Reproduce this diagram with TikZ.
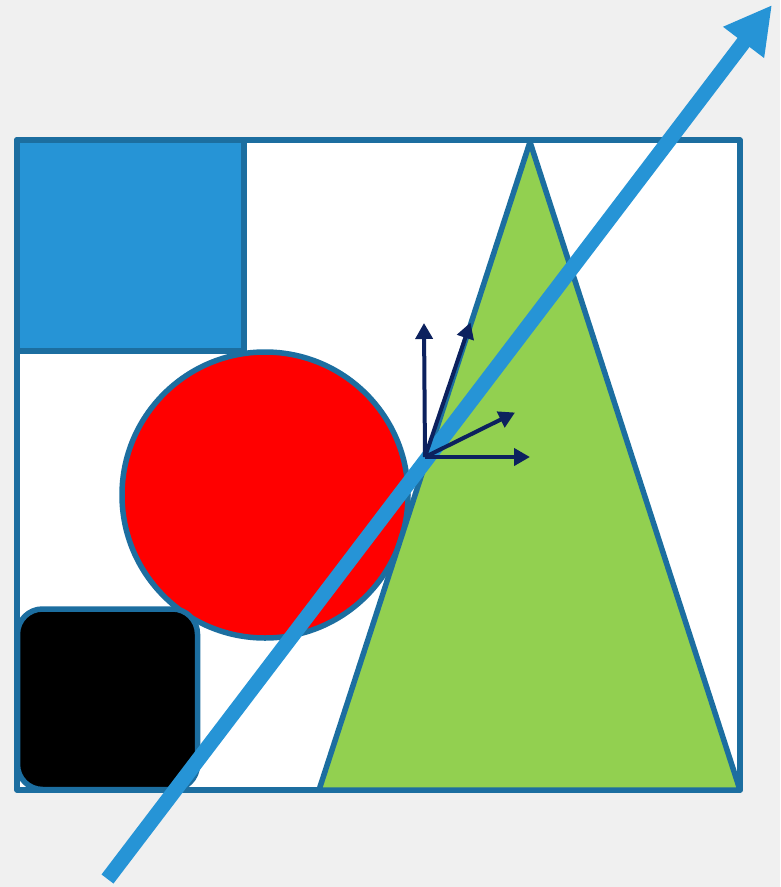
\documentclass[tikz,border=0pt]{standalone}
\usetikzlibrary{arrows.meta}
\definecolor{edge}{HTML}{1C6EA0}
\definecolor{skyb}{HTML}{2694D6}
\definecolor{leaf}{HTML}{92D050}
\definecolor{navy}{HTML}{0C215E}
\definecolor{bg}{HTML}{F0F0F0}
\tikzset{
  shp/.style={draw=edge,line width=5.5pt,line join=round},
  big/.style={-{Triangle[length=47pt,width=48pt]},line width=15pt,draw=skyb},
  vec/.style={-{Triangle[length=16pt,width=17pt]},line width=4pt,draw=navy},
}
\begin{document}
\begin{tikzpicture}[x=1pt,y=-1pt]
  \fill[bg] (0,0) rectangle (780,887);
  \useasboundingbox (0,0) rectangle (780,887);
  % frame and shapes
  \draw[shp,fill=white] (17,140) rectangle (740,790);
  \draw[shp,fill=skyb] (17,140) rectangle (244,351);
  \draw[shp,fill=red] (265,495) circle[radius=143];
  \draw[shp,fill=black,rounded corners=25pt] (17.5,609) rectangle (197.5,789.5);
  \draw[shp,fill=leaf] (530,142) -- (740,790) -- (319,790) -- cycle;
  % long arrow
  \coordinate (tail) at (107.5,879);
  \coordinate (head) at (772,5);
  \draw[big] (tail) -- (head);
  % small vectors
  \coordinate (o) at (425,457);
  \foreach \x/\y in {424/323,470.5/322.5,515/412.5,530/457}
    \draw[vec] (o) -- (\x,\y);
\end{tikzpicture}
\end{document}
